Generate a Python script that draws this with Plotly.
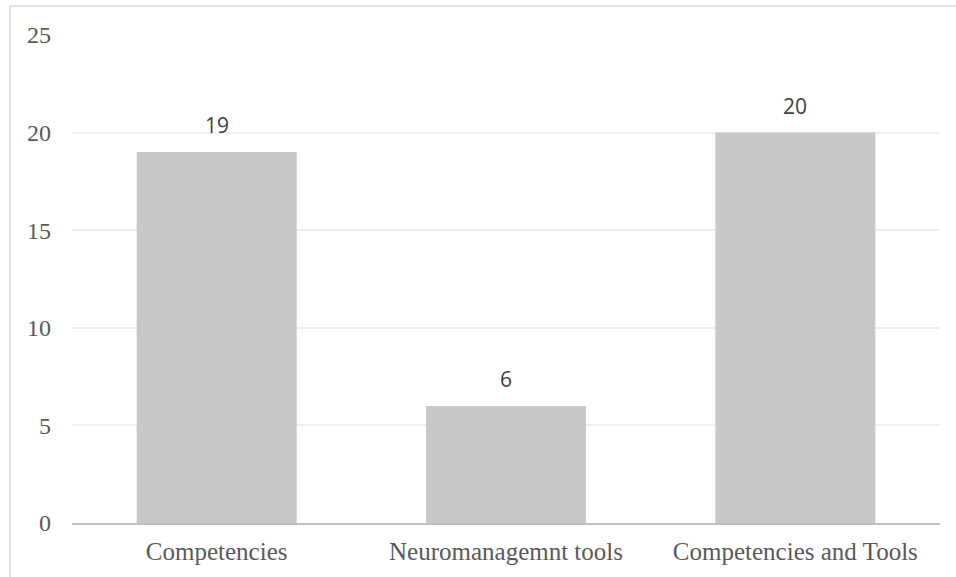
import plotly.graph_objects as go

categories = ["Competencies", "Neuromanagemnt tools", "Competencies and Tools"]
values = [19, 6, 20]
y_ticks = [0, 5, 10, 15, 20, 25]

SERIF = "Liberation Serif"
SANS = "Open Sans"

fig = go.Figure()
fig.add_trace(go.Bar(
    x=categories, y=values,
    marker=dict(color="#c8c8c8", line=dict(width=0)),
    width=0.553,
    hoverinfo="skip",
))

for c, v in zip(categories, values):
    fig.add_annotation(
        x=c, y=v, text=str(v), showarrow=False,
        yanchor="bottom", yshift=11,
        font=dict(family=SANS, size=21, color="#404040"),
    )

# outer chart border (left and top edges visible)
fig.add_shape(type="line", xref="paper", yref="paper",
              x0=-0.0714, x1=1.2, y0=1.0594, y1=1.0594,
              line=dict(color="#d9d9d9", width=1.5))
fig.add_shape(type="line", xref="paper", yref="paper",
              x0=-0.0714, x1=-0.0714, y0=1.0594, y1=-0.2,
              line=dict(color="#d9d9d9", width=1.5))

fig.update_layout(
    width=956, height=577,
    margin=dict(l=72, r=16, t=35, b=54),
    plot_bgcolor="white", paper_bgcolor="white",
    showlegend=False,
    font=dict(family=SERIF, size=23, color="#595959"),
    xaxis=dict(
        showgrid=False, showline=True, linecolor="#bfbfbf", linewidth=2,
        ticks="", ticklabelstandoff=5,
        tickfont=dict(family=SERIF, size=25, color="#595959"),
    ),
    yaxis=dict(
        range=[0, 25], tickvals=y_ticks, showgrid=True, gridcolor="#efefef", gridwidth=1.5,
        zeroline=False, showline=False, ticks="", ticklabelstandoff=20,
        tickfont=dict(family=SERIF, size=24, color="#595959"),
    ),
)

fig.write_html("out.html")
